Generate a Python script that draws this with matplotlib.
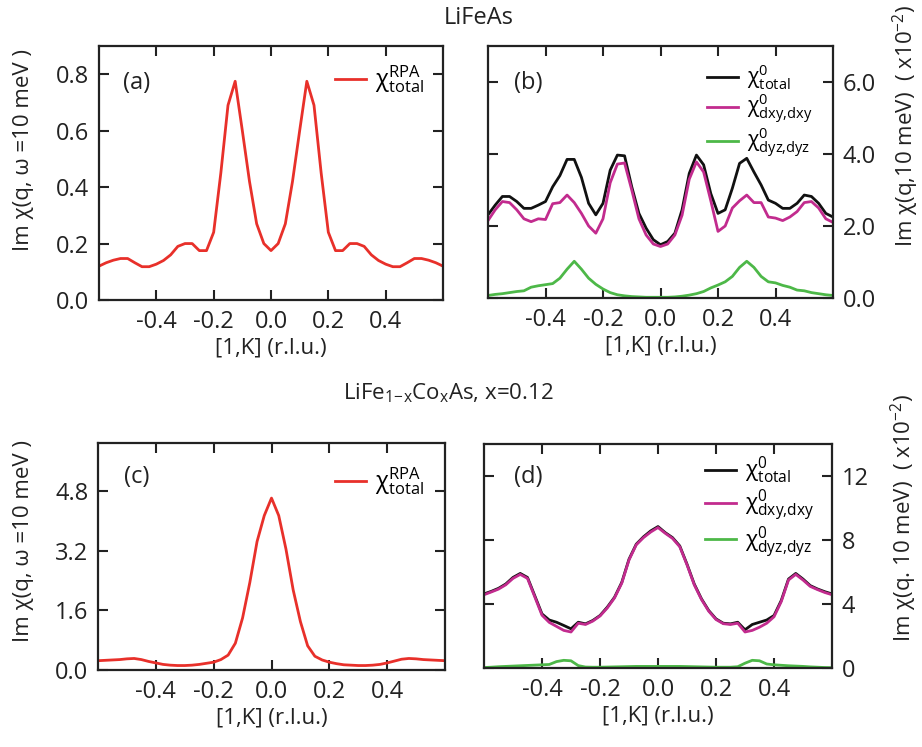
import matplotlib
matplotlib.use("Agg")
import matplotlib.pyplot as plt

plt.rcParams['font.family'] = ['Open Sans', 'DejaVu Sans']
plt.rcParams['mathtext.fontset'] = 'custom'
plt.rcParams['mathtext.rm'] = 'Open Sans'
plt.rcParams['mathtext.it'] = 'Open Sans:italic'
plt.rcParams['mathtext.bf'] = 'Open Sans:bold'
plt.rcParams['mathtext.fallback'] = 'stixsans'

# ---- data ----
K = [-0.6, -0.575, -0.55, -0.525, -0.5, -0.475, -0.45, -0.425, -0.4, -0.375,
     -0.35, -0.325, -0.3, -0.275, -0.25, -0.225, -0.2, -0.175, -0.15, -0.125,
     -0.1, -0.075, -0.05, -0.025, 0.0, 0.025, 0.05, 0.075, 0.1, 0.125,
     0.15, 0.175, 0.2, 0.225, 0.25, 0.275, 0.3, 0.325, 0.35, 0.375,
     0.4, 0.425, 0.45, 0.475, 0.5, 0.525, 0.55, 0.575, 0.6]

# (a) LiFeAs RPA
a_rpa = [0.12, 0.132, 0.141, 0.147, 0.147, 0.132, 0.118, 0.118, 0.127, 0.14,
         0.16, 0.19, 0.2, 0.2, 0.175, 0.175, 0.24, 0.45, 0.69, 0.775,
         0.6, 0.42, 0.27, 0.2, 0.175, 0.2, 0.27, 0.42, 0.6, 0.775,
         0.69, 0.45, 0.24, 0.175, 0.175, 0.2, 0.2, 0.19, 0.16, 0.14,
         0.127, 0.118, 0.118, 0.132, 0.147, 0.147, 0.141, 0.132, 0.12]

# (b) LiFeAs bare susceptibility (x10^-2)
b_total = [2.31, 2.58, 2.82, 2.82, 2.68, 2.49, 2.49, 2.58, 2.68, 3.09,
           3.4, 3.85, 3.85, 3.35, 2.63, 2.31, 2.63, 3.55, 3.97, 3.95,
           3.09, 2.35, 1.94, 1.62, 1.48, 1.57, 1.8, 2.45, 3.46, 3.97,
           3.7, 2.9, 2.35, 2.45, 3.05, 3.74, 3.88, 3.5, 3.14, 2.72,
           2.63, 2.49, 2.49, 2.63, 2.86, 2.82, 2.63, 2.35, 2.25]
b_dxy = [2.15, 2.45, 2.68, 2.65, 2.45, 2.2, 2.12, 2.2, 2.18, 2.62,
         2.65, 2.86, 2.65, 2.35, 2.0, 1.8, 2.2, 3.2, 3.72, 3.75,
         3.0, 2.2, 1.75, 1.5, 1.43, 1.5, 1.75, 2.3, 3.3, 3.78,
         3.5, 2.7, 1.85, 2.0, 2.5, 2.7, 2.86, 2.65, 2.65, 2.25,
         2.22, 2.15, 2.25, 2.4, 2.65, 2.68, 2.5, 2.2, 2.1]
b_dyz = [0.07, 0.1, 0.12, 0.15, 0.18, 0.2, 0.3, 0.34, 0.37, 0.4,
         0.55, 0.8, 1.02, 0.8, 0.55, 0.38, 0.25, 0.15, 0.09, 0.06,
         0.04, 0.03, 0.02, 0.02, 0.02, 0.02, 0.03, 0.05, 0.08, 0.12,
         0.18, 0.28, 0.36, 0.45, 0.6, 0.85, 1.02, 0.85, 0.6, 0.45,
         0.42, 0.35, 0.3, 0.22, 0.2, 0.15, 0.12, 0.09, 0.07]

# (c) LiFe1-xCoxAs RPA
c_rpa = [0.25, 0.26, 0.27, 0.28, 0.3, 0.31, 0.28, 0.23, 0.19, 0.15,
         0.13, 0.12, 0.12, 0.13, 0.15, 0.18, 0.21, 0.28, 0.4, 0.72,
         1.4, 2.35, 3.45, 4.15, 4.62, 4.15, 3.25, 2.15, 1.3, 0.65,
         0.37, 0.27, 0.21, 0.17, 0.14, 0.13, 0.12, 0.12, 0.13, 0.15,
         0.19, 0.24, 0.29, 0.31, 0.3, 0.28, 0.27, 0.26, 0.25]

# (d) LiFe1-xCoxAs bare susceptibility (x10^-2)
d_total = [4.63, 4.79, 4.98, 5.25, 5.66, 5.91, 5.66, 4.52, 3.38, 3.0,
           2.86, 2.66, 2.45, 2.86, 2.76, 2.97, 3.28, 3.8, 4.42, 5.35,
           6.8, 7.74, 8.2, 8.57, 8.84, 8.46, 8.15, 7.63, 6.49, 5.25,
           4.32, 3.59, 3.07, 2.8, 2.76, 2.86, 2.39, 2.72, 2.86, 3.0,
           3.28, 4.22, 5.56, 5.91, 5.56, 5.15, 4.94, 4.77, 4.63]
d_dxy = [4.58, 4.75, 4.93, 5.2, 5.6, 5.85, 5.6, 4.45, 3.3, 2.85,
         2.6, 2.35, 2.25, 2.8, 2.72, 2.93, 3.25, 3.75, 4.38, 5.3,
         6.75, 7.7, 8.15, 8.5, 8.78, 8.42, 8.1, 7.58, 6.45, 5.2,
         4.28, 3.55, 3.03, 2.77, 2.72, 2.8, 2.25, 2.35, 2.55, 2.8,
         3.2, 4.15, 5.5, 5.85, 5.5, 5.1, 4.9, 4.72, 4.58]
d_dyz = [0.03, 0.05, 0.08, 0.1, 0.12, 0.14, 0.16, 0.18, 0.2, 0.22,
         0.4, 0.48, 0.45, 0.15, 0.06, 0.05, 0.05, 0.06, 0.07, 0.08,
         0.09, 0.1, 0.1, 0.1, 0.1, 0.1, 0.1, 0.1, 0.09, 0.08,
         0.07, 0.06, 0.05, 0.05, 0.05, 0.08, 0.3, 0.48, 0.45, 0.25,
         0.2, 0.17, 0.14, 0.12, 0.1, 0.07, 0.05, 0.03, 0.02]

xticks = [-0.4, -0.2, 0.0, 0.2, 0.4]
xticklabels = ['-0.4', '-0.2', '0.0', '0.2', '0.4']
a_yticks = [0.0, 0.2, 0.4, 0.6, 0.8]
b_yticks = [0.0, 2.0, 4.0, 6.0]
c_yticks = [0.0, 1.6, 3.2, 4.8]
d_yticks = [0, 4, 8, 12]

RED = '#e8302a'
MAG = '#c22b8e'
GRN = '#4db848'
BLK = '#111111'
TXT = '#222222'

lab_rpa = r'$\mathrm{\chi}^{\mathrm{RPA}}_{\mathrm{total}}$'
lab_tot = r'$\mathrm{\chi}^{0}_{\mathrm{total}}$'
lab_xy = r'$\mathrm{\chi}^{0}_{\mathrm{dxy{,}dxy}}$'
lab_yz = r'$\mathrm{\chi}^{0}_{\mathrm{dyz{,}dyz}}$'

fig = plt.figure(figsize=(9.22, 7.47), dpi=100)
W, H = 922, 747

def add_ax(l, t, r, b):
    return fig.add_axes([l / W, 1 - b / H, (r - l) / W, (b - t) / H])

axa = add_ax(99, 46, 443, 300)
axb = add_ax(488, 46, 833, 298)
axc = add_ax(98, 443, 445, 670)
axd = add_ax(484, 444, 832, 668)

FS = 17

def style(ax, yt, ylim, ylabfmt, right=False):
    ax.set_xlim(-0.6, 0.6)
    ax.set_ylim(*ylim)
    ax.set_xticks(xticks)
    ax.set_xticklabels(xticklabels)
    ax.set_yticks(yt)
    ax.set_yticklabels([ylabfmt(v) for v in yt])
    ax.tick_params(direction='in', length=7, width=1.5, top=True, right=True,
                   labelsize=FS, colors=TXT, pad=7)
    if right:
        ax.tick_params(labelleft=False, labelright=True)
    for s in ax.spines.values():
        s.set_linewidth(1.6)
        s.set_color(TXT)
    ax.set_xlabel('[1,K] (r.l.u.)', fontsize=FS - 1, color=TXT, labelpad=3)

style(axa, a_yticks, (0, 0.9), lambda v: f'{v:.1f}')
style(axb, b_yticks, (0, 7.0), lambda v: f'{v:.1f}', right=True)
style(axc, c_yticks, (0, 6.1), lambda v: f'{v:.1f}')
style(axd, d_yticks, (0, 14), lambda v: f'{v:d}', right=True)

LW = 2.0
axa.plot(K, a_rpa, color=RED, lw=LW, label=lab_rpa)
axc.plot(K, c_rpa, color=RED, lw=LW, label=lab_rpa)
axb.plot(K, b_total, color=BLK, lw=LW, label=lab_tot)
axb.plot(K, b_dxy, color=MAG, lw=LW, label=lab_xy)
axb.plot(K, b_dyz, color=GRN, lw=LW, label=lab_yz)
axd.plot(K, d_total, color=BLK, lw=LW, label=lab_tot)
axd.plot(K, d_dxy, color=MAG, lw=LW, label=lab_xy)
axd.plot(K, d_dyz, color=GRN, lw=LW, label=lab_yz)

leg_kw = dict(frameon=False, handletextpad=0.4,
              borderpad=0, borderaxespad=0, loc='upper left')
axa.legend(bbox_to_anchor=(0.686, 0.93), fontsize=FS, handlelength=1.3, **leg_kw)
axc.legend(bbox_to_anchor=(0.683, 0.90), fontsize=FS, handlelength=1.3, **leg_kw)
axb.legend(bbox_to_anchor=(0.635, 0.935), fontsize=15, handlelength=1.5,
           labelspacing=0.0, **leg_kw)
axd.legend(bbox_to_anchor=(0.635, 0.95), fontsize=16, handlelength=1.4,
           labelspacing=0.05, **leg_kw)

for ax, lab, x, y in [(axa, '(a)', 0.11, 0.854), (axb, '(b)', 0.116, 0.853),
                      (axc, '(c)', 0.112, 0.85), (axd, '(d)', 0.126, 0.853)]:
    ax.text(x, y, lab, transform=ax.transAxes, fontsize=FS, ha='center',
            va='center', color=TXT)

# titles
fig.text(479 / W, 1 - 18 / H, 'LiFeAs', fontsize=FS, ha='center', va='center',
         color=TXT)
fig.text(448 / W, 1 - 393 / H,
         r'LiFe$_{\mathregular{1\!-\!x}}$Co$_{\mathregular{x}}$As, x=0.12',
         fontsize=FS - 1, ha='center', va='center', color=TXT)

# y labels
YL = 16
fig.text(24 / W, 1 - 150 / H, 'Im χ(q, ω =10 meV )', rotation=90, fontsize=YL,
         ha='center', va='center', color=TXT)
fig.text(24 / W, 1 - 541 / H, 'Im χ(q, ω =10 meV )', rotation=90, fontsize=YL,
         ha='center', va='center', color=TXT)
fig.text(906 / W, 1 - 126 / H, r'Im χ(q,10 meV)  ( x10$^{\mathregular{-2}}$)',
         rotation=90, fontsize=YL, ha='center', va='center', color=TXT)
fig.text(904 / W, 1 - 518 / H, r'Im χ(q. 10 meV)  ( x10$^{\mathregular{-2}}$)',
         rotation=90, fontsize=YL, ha='center', va='center', color=TXT)

fig.savefig('out.png', dpi=100, facecolor='white')
